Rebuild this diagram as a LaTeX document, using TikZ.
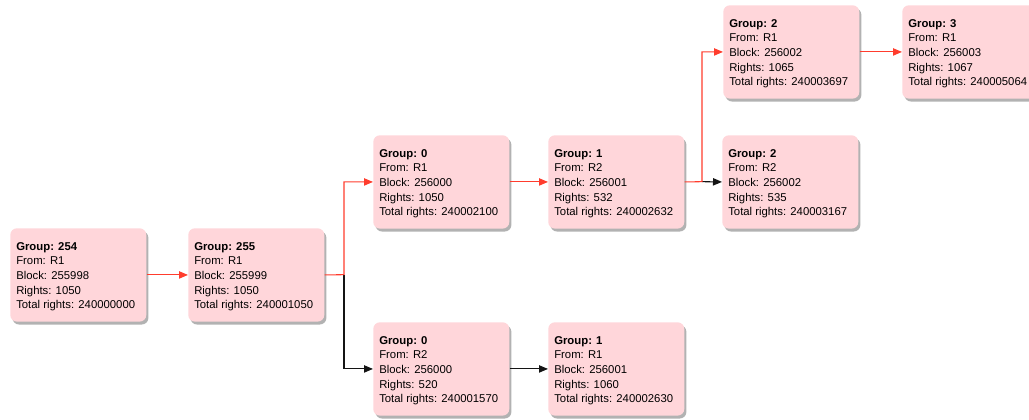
\documentclass[tikz,border=0pt]{standalone}
\usepackage{fontspec}
\setmainfont{Liberation Sans}
\usetikzlibrary{arrows.meta,shadows}
\definecolor{boxpink}{RGB}{255,214,218}
\definecolor{linered}{RGB}{255,60,45}
\definecolor{lineblack}{RGB}{20,20,20}
\tikzset{
  blk/.style={rectangle, rounded corners=5pt, fill=boxpink, minimum width=102pt, minimum height=70pt, inner sep=0pt, anchor=north west,
    drop shadow={shadow xshift=1.6pt, shadow yshift=-2.2pt, fill=black, opacity=0.3}},
  txt/.style={anchor=north west, inner sep=0pt, align=left, font=\fontsize{8.5}{11}\selectfont},
  redarr/.style={draw=linered, line width=0.8pt, -{Triangle[length=6.75pt,width=5.5pt]}},
  blkarr/.style={draw=lineblack, line width=0.8pt, -{Triangle[length=6.75pt,width=5.5pt]}}
}
\newcommand{\infotext}[5]{\textbf{Group: #1}\\From: #2\\Block: #3\\Rights: #4\\Total rights: #5}
\begin{document}
\begin{tikzpicture}[x=0.75pt,y=-0.75pt]
\useasboundingbox (0,0) rectangle (1029,419);
\clip (0,0) rectangle (1029,419);
% boxes
\node[blk] (b254) at (10,228) {};
\node[blk] (b255) at (188,228) {};
\node[blk] (g0a) at (373,135) {};
\node[blk] (g1a) at (548,135) {};
\node[blk] (g2a) at (723,5) {};
\node[blk] (g3) at (902,5) {};
\node[blk] (g2b) at (722,135) {};
\node[blk] (g0b) at (373,322) {};
\node[blk] (g1b) at (548,322) {};
% texts
\node[txt] (t254) at ([xshift=4.5pt,yshift=-10.6pt]b254.north west) {\infotext{254}{R1}{255998}{1050}{240000000}};
\node[txt] (t255) at ([xshift=4.5pt,yshift=-10.6pt]b255.north west) {\infotext{255}{R1}{255999}{1050}{240001050}};
\node[txt] (tg0a) at ([xshift=4.5pt,yshift=-10.6pt]g0a.north west) {\infotext{0}{R1}{256000}{1050}{240002100}};
\node[txt] (tg1a) at ([xshift=4.5pt,yshift=-10.6pt]g1a.north west) {\infotext{1}{R2}{256001}{532}{240002632}};
\node[txt] (tg2a) at ([xshift=4.5pt,yshift=-10.6pt]g2a.north west) {\infotext{2}{R1}{256002}{1065}{240003697}};
\node[txt] (tg3) at ([xshift=4.5pt,yshift=-10.6pt]g3.north west) {\infotext{3}{R1}{256003}{1067}{240005064}};
\node[txt] (tg2b) at ([xshift=4.5pt,yshift=-10.6pt]g2b.north west) {\infotext{2}{R2}{256002}{535}{240003167}};
\node[txt] (tg0b) at ([xshift=4.5pt,yshift=-10.6pt]g0b.north west) {\infotext{0}{R2}{256000}{520}{240001570}};
\node[txt] (tg1b) at ([xshift=4.5pt,yshift=-10.6pt]g1b.north west) {\infotext{1}{R1}{256001}{1060}{240002630}};
% junctions
\coordinate (j1) at (344,274.67);
\coordinate (j2) at (702,181.67);
% connectors
\draw[redarr] (b254.east) -- (b255.west);
\draw[blkarr] (j1) |- (g0b.west);
\draw[redarr] (b255.east) -- (j1) |- (g0a.west);
\draw[redarr] (g0a.east) -- (g1a.west);
\draw[blkarr] (j2) -- (g2b.west);
\draw[redarr] (g1a.east) -- (j2) |- (g2a.west);
\draw[redarr] (g2a.east) -- (g3.west);
\draw[blkarr] (g0b.east) -- (g1b.west);
\end{tikzpicture}
\end{document}
